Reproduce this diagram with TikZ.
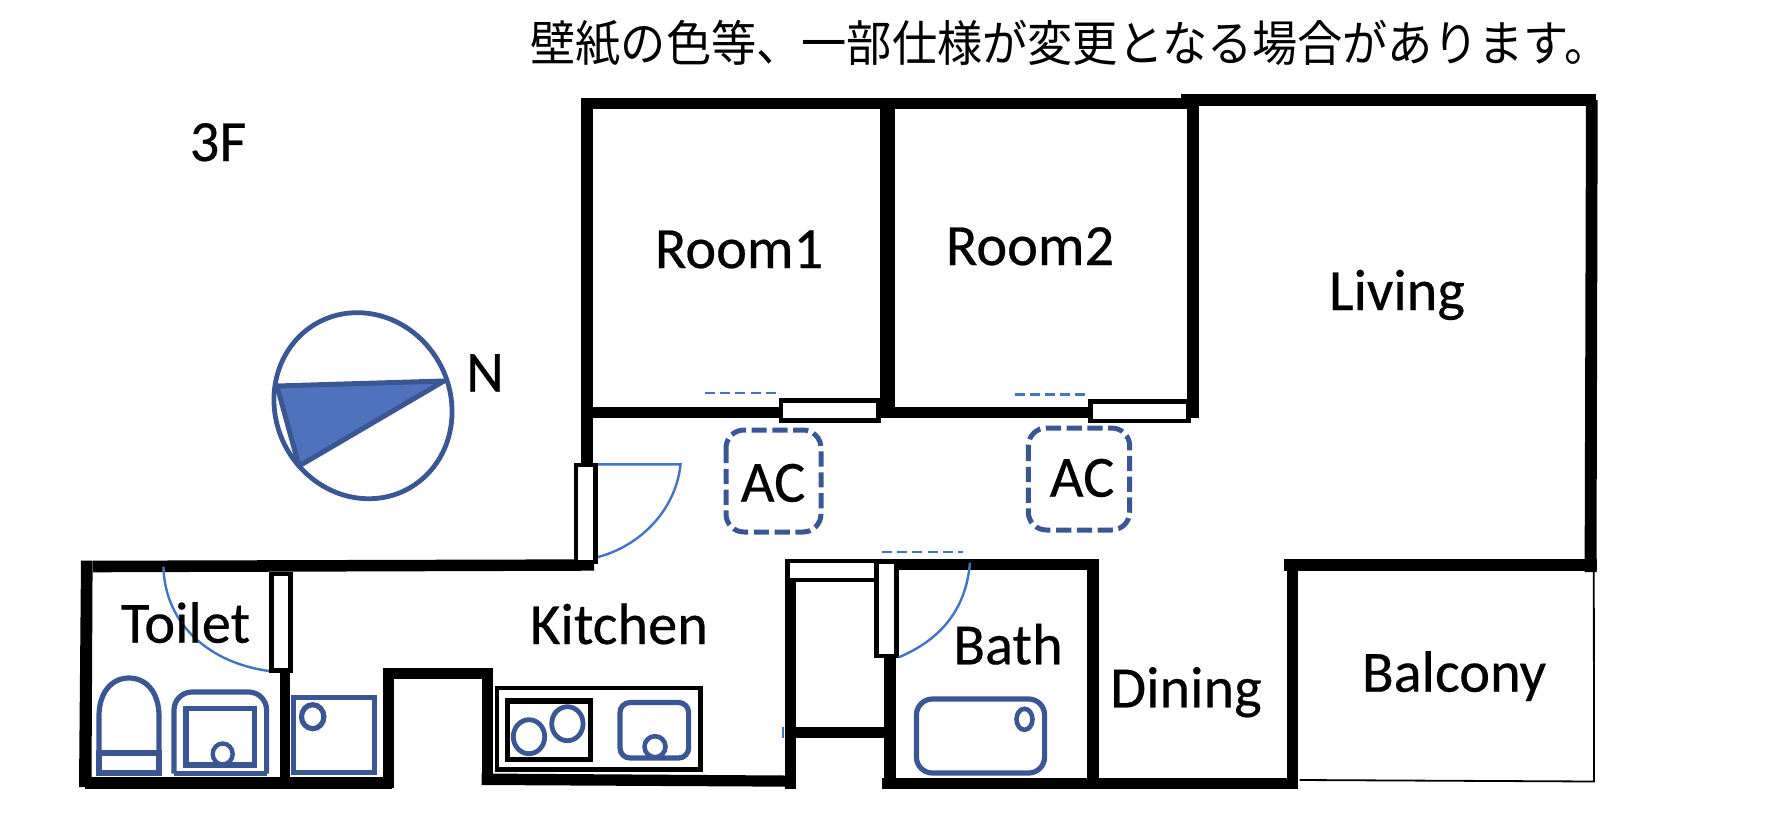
\documentclass[tikz,border=0pt]{standalone}
\usepackage{fontspec}
\setmainfont{Carlito}[FakeBold=0.4]
\newfontfamily\jpfont{Noto Sans CJK JP}
\definecolor{fixt}{HTML}{3A5793}
\definecolor{thinb}{HTML}{4472C4}
\definecolor{arrowfill}{HTML}{4F72BC}
\tikzset{
  wall/.style={fill=black,draw=none},
  opening/.style={draw=black,fill=white,line width=2.4pt},
  fixture/.style={draw=fixt,line width=2.6pt},
  swing/.style={draw=thinb,line width=1.2pt},
  hint/.style={draw=thinb,line width=1.2pt,dash pattern=on 5pt off 2.6pt},
  acbox/.style={draw=fixt,line width=2.5pt,dash pattern=on 7.6pt off 2.8pt,rounded corners=9pt},
  thinwall/.style={draw=black,line width=0.9pt},
  roomlabel/.style={font=\fontsize{29.2}{31}\selectfont,inner sep=0pt,anchor=base}
}
\begin{document}
\begin{tikzpicture}[x=0.5pt,y=-0.5pt]
\useasboundingbox (0,0) rectangle (1790,836);
% balcony thin lines
\draw[thinwall] (1593.8,570) -- (1594,781.5) -- (1299.5,780);
% top walls
\fill[wall] (581.4,98.3) rectangle (1187,109.3);
\fill[wall] (1180.8,94.3) rectangle (1596,105.7);
\fill[wall] (581.4,98.3) rectangle (592.9,465);
\fill[wall] (879.8,98.3) rectangle (895,418);
\fill[wall] (1187,100) rectangle (1198.7,418);
\fill[wall] (1586,100) -- (1597.7,100) -- (1596.5,572) -- (1584.6,572) -- cycle;
% room bottoms
\fill[wall] (592,406.7) rectangle (781,418);
\fill[wall] (895,406.7) rectangle (1090,418.3);
% openings in rooms
\draw[opening] (781,400.8) rectangle (878.5,420.2);
\draw[opening] (1090.5,401.5) rectangle (1188.5,421);
% toilet / kitchen walls
\fill[wall] (81,560.7) -- (92.6,560.7) -- (91.5,787) -- (79,787) -- cycle;
\fill[wall] (93,560.7) -- (594,559.3) -- (594,570.7) -- (93,572.3) -- cycle;
\fill[wall] (85,776.7) rectangle (392,788.7);
\fill[wall] (279.5,670) rectangle (290,780);
\fill[wall] (382.7,668.3) rectangle (394,788);
\fill[wall] (383,668.3) rectangle (493,679.3);
\fill[wall] (481.5,668.3) rectangle (493,785);
\fill[wall] (481.5,773.5) -- (785,775.5) -- (791,775.5) -- (791,786.7) -- (481.5,785) -- cycle;
\fill[wall] (785,578) rectangle (796.4,788.7);
\fill[wall] (785,726.7) rectangle (885,738.3);
% bath walls
\fill[wall] (884,559) rectangle (1098.6,570);
\fill[wall] (1087,559) rectangle (1098.6,788);
\fill[wall] (884.4,650) rectangle (896.4,788);
\fill[wall] (882,778) rectangle (1292,789.3);
\fill[wall] (1287,559) rectangle (1298,789.3);
\fill[wall] (1284,559.3) rectangle (1596.5,570.7);
% openings
\draw[opening] (576,465) rectangle (595.5,562);
\draw[opening] (271.3,574) rectangle (290.6,670.5);
\draw[opening] (787.3,561) rectangle (883,580);
\draw[opening] (876.5,562) rectangle (896.4,656);
% swings
\draw[swing] (597.8,464.3) -- (680.5,464.3) .. controls (676,510) and (640,546) .. (598,557);
\draw[swing] (163.4,566.7) .. controls (165,625) and (210,663) .. (269,671);
\draw[swing] (970,562.7) .. controls (966,610) and (940,640) .. (898.7,657.3);
\draw[swing] (783.2,727) -- (783.2,738);
% window hints
\draw[hint] (705,392.7) -- (781,392.7);
\draw[hint] (1014.5,394.3) -- (1090,394.3);
\draw[hint] (882,552) -- (963.4,552);
% toilet
\draw[fixture] (99,753) -- (99,716) .. controls (99,692) and (112,678) .. (129,678) .. controls (146,678) and (159,692) .. (159,716) -- (159,753);
\draw[fixture] (99,753) rectangle (159,773);
% wash basin
\draw[fixture,rounded corners=9pt] (174,773.5) -- (174,692) -- (266.6,692) -- (266.6,773.5);
\draw[fixture] (174,773.5) -- (266.6,773.5);
\draw[fixture] (186,708.5) rectangle (254.5,765);
\draw[fixture,line width=2.2pt] (222.7,754) circle [x radius=10,y radius=10.5];
% washer pan
\draw[fixture] (293.3,697.5) rectangle (374.7,772.5);
\draw[fixture] (312.7,716.7) circle [x radius=11.2,y radius=12];
% counter
\draw[draw=black,line width=2.4pt] (497,688) rectangle (700.8,769.3);
\draw[draw=black,line width=2.7pt] (507.6,701) rectangle (590.5,759.4);
\draw[fixture,line width=2.4pt] (529,736.7) circle [x radius=15.7,y radius=17];
\draw[fixture,line width=2.4pt] (567.4,723.7) circle [x radius=15.7,y radius=17];
\draw[fixture,rounded corners=5pt] (620,702.5) rectangle (688.6,758);
\draw[fixture,line width=2.3pt] (655,746.7) circle [x radius=10.5,y radius=10.5];
% bath tub
\draw[fixture,rounded corners=8pt] (916.4,699) rectangle (1044.6,773);
\draw[fixture,line width=2.3pt] (1024.5,719.3) circle [x radius=8,y radius=10.5];
% compass
\draw[fixture,line width=2.4pt] (452,408.2) .. controls (453.8,459.6) and (415.5,500.1) .. (366.3,498.7)
  .. controls (317.1,497.3) and (275.8,454.6) .. (274,403.2)
  .. controls (272.2,351.8) and (310.5,311.3) .. (359.7,312.7)
  .. controls (408.9,314.1) and (450.2,356.8) .. (452,408.2) -- cycle;
\draw[draw=fixt,fill=arrowfill,line width=2.5pt,line join=round] (277,386) -- (444,381) -- (299,466) -- cycle;
% AC boxes
\draw[acbox] (726,430) rectangle (821,532);
\draw[acbox] (1028.3,428) rectangle (1129.7,530);
% labels
\node[roomlabel] (ac1) at (773,501.7) {AC};
\node[roomlabel] (ac2) at (1082,496.7) {AC};
\node[roomlabel] (north) at (485,391.7) {N};
\node[roomlabel] (floor) at (218,161) {3F};
\node[roomlabel] (room1) at (739,268) {Room1};
\node[roomlabel] (room2) at (1030,265) {Room2};
\node[roomlabel] (living) at (1397,310) {Living};
\node[roomlabel] (toilet) at (185.6,642.7) {Toilet};
\node[roomlabel] (kitchen) at (619,644) {Kitchen};
\node[roomlabel] (bath) at (1008,664.3) {Bath};
\node[roomlabel] (dining) at (1186,707.3) {Dining};
\node[roomlabel] (balcony) at (1454,691.7) {Balcony};
\node[font=\jpfont\fontsize{22.6}{24}\selectfont,inner sep=0pt,anchor=base] (note) at (1070,61) {\scalebox{1}[1.08]{壁紙の色等、一部仕様が変更となる場合があります。}};
\end{tikzpicture}
\end{document}
